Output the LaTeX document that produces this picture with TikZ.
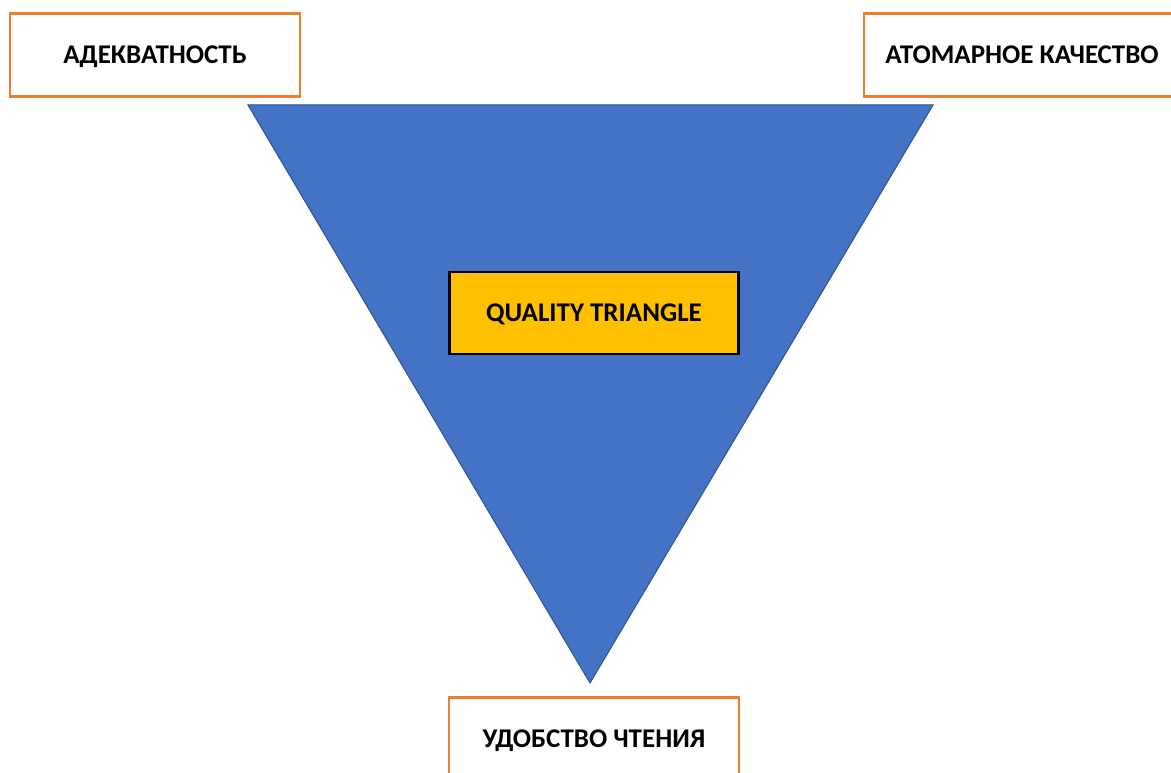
\documentclass[tikz,border=0pt]{standalone}
\usepackage{fontspec}
\setmainfont{Carlito}
\definecolor{triblue}{HTML}{4472C4}
\definecolor{triedge}{HTML}{2F528F}
\definecolor{boxorange}{HTML}{ED7D31}
\definecolor{boxyellow}{HTML}{FFC000}
\begin{document}
\begin{tikzpicture}[x=1pt,y=-1pt,
  labelbox/.style={draw=boxorange,line width=2.5pt,fill=white,inner sep=0pt,text height=17.4pt,text depth=0pt,font=\fontsize{27}{31}\selectfont\bfseries},
  titlebox/.style={draw=black,line width=2.5pt,fill=boxyellow,inner sep=0pt,minimum width=289pt,minimum height=82pt,text height=17.4pt,text depth=0pt,font=\fontsize{27}{31}\selectfont\bfseries}]
\useasboundingbox (0,0) rectangle (1171,773);
\clip (0,0) rectangle (1171,773);
\fill[white] (0,0) rectangle (1171,773);
\coordinate (tl) at (248,105);
\coordinate (tr) at (933,105);
\coordinate (bt) at (590,683);
\fill[triblue] (tl) -- (tr) -- (bt) -- cycle;
\draw[triedge,line width=1pt,line join=miter] (tl) -- (tr) -- (bt) -- cycle;
\node[labelbox,minimum width=290pt,minimum height=83pt] (adeq) at (155,55) {АДЕКВАТНОСТЬ};
\node[labelbox,minimum width=316pt,minimum height=83pt] (atom) at (1022,55) {АТОМАРНОЕ КАЧЕСТВО};
\node[labelbox,minimum width=290pt,minimum height=83pt] (read) at (594,739) {УДОБСТВО ЧТЕНИЯ};
\node[titlebox] (qt) at (594,313) {QUALITY TRIANGLE};
\end{tikzpicture}
\end{document}
